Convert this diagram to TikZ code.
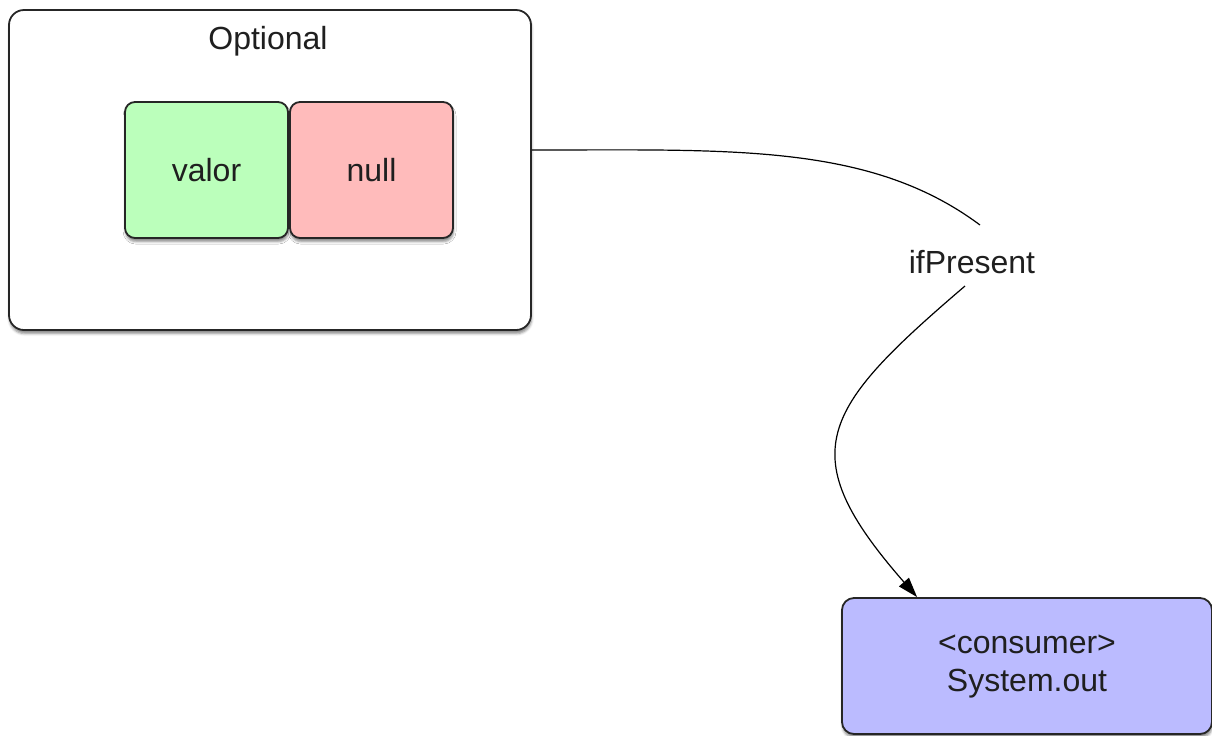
\documentclass[tikz,border=0pt]{standalone}
\usepackage{fontspec}
\setmainfont{Liberation Sans}
\usetikzlibrary{arrows.meta,shadows.blur,calc}
\definecolor{valgreen}{HTML}{BBFFBB}
\definecolor{nullpink}{HTML}{FFBBBB}
\definecolor{conslav}{HTML}{BBBBFF}
\begin{document}
\begin{tikzpicture}[x=0.5pt,y=-0.5pt,
  box/.style={draw=black!85, line width=0.9pt, rounded corners=6pt,
    blur shadow={shadow xshift=0.3pt, shadow yshift=-1.8pt, shadow blur radius=1.2pt, shadow opacity=45}},
  lbl/.style={font=\fontsize{16}{19}\selectfont, text=black!88},
  conn/.style={line width=0.6pt, black}]
\useasboundingbox (0,0) rectangle (1212,735);
\node[box, fill=white, minimum width=261pt, minimum height=160pt, rounded corners=7.5pt] (opt) at (270,170) {};
\node[lbl] (optlbl) at (268,41) {Optional};
\node[box, fill=valgreen, minimum width=81.5pt, minimum height=68pt, rounded corners=5pt, lbl] (valor) at (206.5,170) {valor};
\node[box, fill=nullpink, minimum width=81.5pt, minimum height=68pt, rounded corners=5pt, lbl] (null) at (371.5,170) {null};
\node[box, fill=conslav, minimum width=185pt, minimum height=68pt, rounded corners=6pt, lbl, align=center] (sys) at (1027,666) {<consumer>\\System.out};
\node[lbl] (ifp) at (972,262) {ifPresent};
\draw[conn] ($(opt.east)+(0,-20)$) .. controls +(200,0) and +(-110,-82) .. ($(ifp.center)+(8,-37)$);
\draw[conn, -{Triangle[length=10pt,width=6.5pt]}] ($(ifp.center)+(-7,24)$) .. controls +(-145,124) and +(-126,-144) .. ($(sys.north west)+(76,0)$);
\end{tikzpicture}
\end{document}
